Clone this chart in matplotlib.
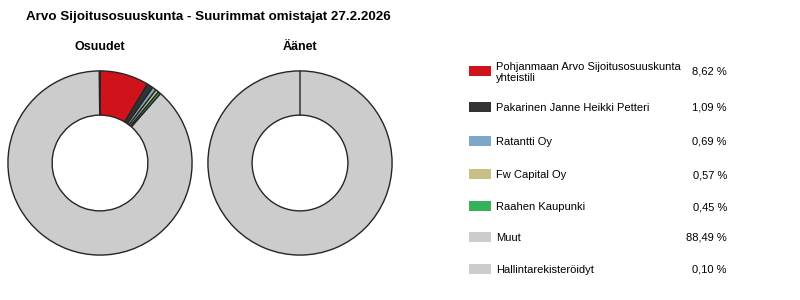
import matplotlib
matplotlib.use('Agg')
import matplotlib.pyplot as plt
from matplotlib.patches import Rectangle

plt.rcParams['font.family'] = ['Liberation Sans', 'DejaVu Sans']

# data
owners = ['Pohjanmaan Arvo Sijoitusosuuskunta\nyhteistili', 'Pakarinen Janne Heikki Petteri',
          'Ratantti Oy', 'Fw Capital Oy', 'Raahen Kaupunki', 'Muut', 'Hallintarekisteröidyt']
osuudet = [8.62, 1.09, 0.69, 0.57, 0.45, 88.49, 0.10]
aanet = [0.0, 0.0, 0.0, 0.0, 0.0, 100.0, 0.0]
labels = ['8,62 %', '1,09 %', '0,69 %', '0,57 %', '0,45 %', '88,49 %', '0,10 %']
colors = ['#d0121b', '#333333', '#7fa6c8', '#c6c084', '#33b25a', '#cccccc', '#cccccc']

fig = plt.figure(figsize=(8, 3), dpi=100)

fig.text(26/800, 1 - 17/300, 'Arvo Sijoitusosuuskunta - Suurimmat omistajat 27.2.2026',
         fontsize=9.6, fontweight='bold', va='center', ha='left')

for cx, vals, name in [(100, osuudet, 'Osuudet'), (300, aanet, 'Äänet')]:
    ax = fig.add_axes([(cx - 93)/800, (300 - 163 - 93)/300, 186/800, 186/300])
    ax.pie(vals, colors=colors, startangle=90, counterclock=False, radius=1.0,
           wedgeprops=dict(width=0.48, edgecolor='#262626', linewidth=1.0))
    ax.set_aspect('equal')
    ax.set_xlim(-1.01, 1.01)
    ax.set_ylim(-1.01, 1.01)
    ax.axis('off')
    fig.text(cx/800, 1 - 47/300, name, fontsize=9, fontweight='bold', ha='center', va='center')

# legend
lax = fig.add_axes([0, 0, 1, 1])
lax.set_xlim(0, 800)
lax.set_ylim(300, 0)
lax.axis('off')
ys = [71, 107, 141, 174, 206, 237, 269]
for y, o, lab, c in zip(ys, owners, labels, colors):
    lax.add_patch(Rectangle((469, y - 5), 22, 10, facecolor=c, edgecolor='none'))
    lax.text(496, y, o, fontsize=8, va='center_baseline', ha='left', linespacing=1.15)
    lax.text(727, y, lab, fontsize=8, va='center_baseline', ha='right')

fig.savefig('out.png', dpi=100)
